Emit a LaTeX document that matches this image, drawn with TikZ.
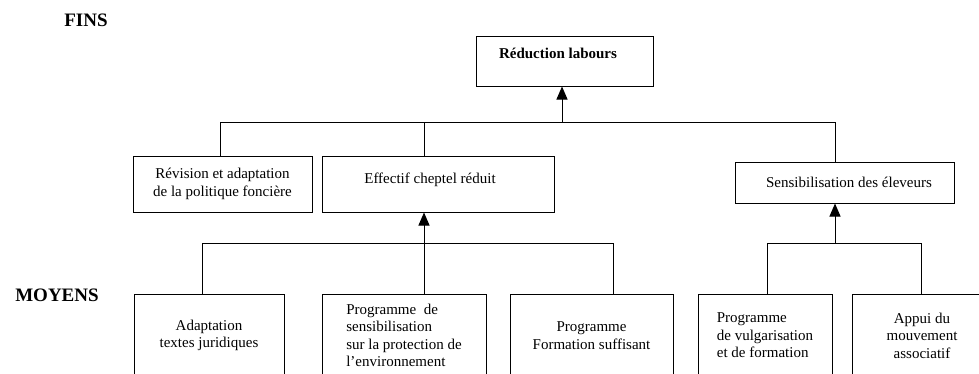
\documentclass[tikz,border=0pt]{standalone}
\usepackage{fontspec}
\setmainfont{Liberation Serif}
\usetikzlibrary{arrows.meta}
\begin{document}
\begin{tikzpicture}[x=1pt,y=-1pt]
\tikzstyle{bx}=[draw, line width=1pt, inner sep=0pt, font=\fontsize{15}{17.5}\selectfont]
\tikzstyle{bbx}=[bx, anchor=north, minimum height=82pt]
\tikzstyle{lvl}=[font=\fontsize{19}{20}\selectfont\bfseries]
\tikzstyle{ln}=[line width=1pt]
\tikzstyle{arr}=[line width=1pt, -{Triangle[width=11pt,length=13pt]}]
\useasboundingbox (0,0) rectangle (979,373);
\clip (0,0) rectangle (979,373);
	\node[lvl] (fins) at (86,20){FINS};
	\node[lvl] (moy) at (57,295){MOYENS};
	\node[bx, minimum width=177pt, minimum height=50pt, text depth=15pt, font=\fontsize{15}{17.5}\selectfont\bfseries] (red) at (565,61){Réduction labours\hspace*{14pt}};
	\node[bx, align=center, minimum width=179pt, minimum height=56pt] (rev) at (222.5,184){Révision et adaptation\\de la politique foncière};
	\node[bx, minimum width=232pt, minimum height=56pt, text depth=12pt] (eff) at (438,184){Effectif cheptel réduit\hspace*{16pt}};
	\node[bx, minimum width=219pt, minimum height=41pt] (sens) at (844.5,182.5){\hspace*{9pt}Sensibilisation des éleveurs};
	\node[bbx, align=center, minimum width=150pt] (adap) at (209,294){Adaptation\\textes juridiques};
	\node[bbx, align=left, minimum width=164pt] (psens) at (404,294){Programme~ de\\sensibilisation\\sur la protection de\\l'environnement};
	\node[bbx, align=center, minimum width=163pt] (pform) at (591.5,294){Programme\\Formation suffisant};
	\node[bbx, align=left, minimum width=134pt] (pvulg) at (765,294){Programme\\de vulgarisation\\et de formation};
	\node[bbx, align=center, minimum width=140pt] (appui) at (922,294){Appui du\\mouvement\\associatif};
	\coordinate (t1) at (220,122);
	\coordinate (t2) at (424,122);
	\coordinate (t3) at (835,122);
	\coordinate (j1) at (562,122);
	\coordinate (b1) at (202,243);
	\coordinate (j2) at (424,243);
	\coordinate (b3) at (613,243);
	\coordinate (c1) at (767,243);
	\coordinate (j3) at (835,243);
	\coordinate (c2) at (921,243);
\draw[ln] (t1)--(t3) (t1)--(t1 |- rev.north) (t2)--(t2 |- eff.north) (t3)--(t3 |- sens.north);
\draw[arr] (j1)--(j1 |- red.south);
\draw[ln] (b1)--(b3) (b1)--(b1 |- adap.north) (j2)--(j2 |- psens.north) (b3)--(b3 |- pform.north);
\draw[arr] (j2)--(j2 |- eff.south);
\draw[ln] (c1)--(c2) (c1)--(c1 |- pvulg.north) (c2)--(c2 |- appui.north);
\draw[arr] (j3)--(j3 |- sens.south);
\end{tikzpicture}
\end{document}
